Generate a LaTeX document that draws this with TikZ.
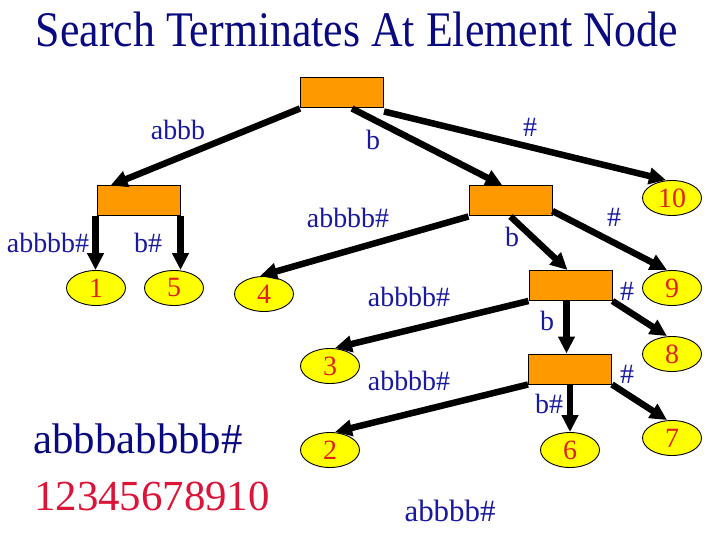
\documentclass[tikz,border=0pt]{standalone}
\usepackage{fontspec}
\setmainfont{Liberation Serif}
\usetikzlibrary{arrows.meta,shapes.geometric}
\definecolor{titleblue}{HTML}{0A0A80}
\definecolor{labelblue}{HTML}{1818A0}
\definecolor{boxorange}{HTML}{FF9900}
\definecolor{leafyellow}{HTML}{FFFF00}
\definecolor{digred}{HTML}{E0201A}
\definecolor{bigred}{HTML}{DC1438}
\begin{document}
\begin{tikzpicture}[x=1bp,y=-1bp,
  innerbox/.style={draw=black,line width=1bp,fill=boxorange,minimum width=83bp,minimum height=30bp,inner sep=0pt},
  leaf/.style={ellipse,draw=black,line width=0.9bp,fill=leafyellow,minimum width=59bp,minimum height=35bp,inner sep=0pt,text=digred,font=\fontsize{28}{28}\selectfont},
  edgearrow/.style={line width=6.5bp,-{Triangle[length=17bp,width=16bp]}},
  lbl/.style={anchor=base,text=labelblue,font=\fontsize{28}{28}\selectfont,inner sep=0pt}]
\useasboundingbox (0,0) rectangle (720,540);
\fill[white] (0,0) rectangle (720,540);
% title
\node[anchor=base,text=titleblue,inner sep=0pt,font=\fontsize{50}{50}\selectfont] (title) at (357,47) {\scalebox{0.88}[1]{Search Terminates At Element Node}};
% branch nodes
\node[innerbox] (root) at (342,93) {};
\node[innerbox] (L) at (138.5,201) {};
\node[innerbox] (M) at (510.5,201) {};
\node[innerbox] (B3) at (570.5,285.5) {};
\node[innerbox] (B4) at (570,369) {};
% leaves
\node[leaf] (e1) at (96,288) {1};
\node[leaf] (e5) at (174,288) {5};
\node[leaf] (e4) at (264,294) {4};
\node[leaf] (e10) at (672,198) {10};
\node[leaf] (e9) at (672,288) {9};
\node[leaf] (e3) at (330,366) {3};
\node[leaf] (e8) at (672,354) {8};
\node[leaf] (e2) at (330,450) {2};
\node[leaf] (e6) at (570,450) {6};
\node[leaf] (e7) at (672,438) {7};
% connectors
\draw[edgearrow] (root.south west) -- ([xshift=-28bp]L.north);
\draw[edgearrow] ([xshift=10bp]root.south) -- ([xshift=-8bp]M.north);
\draw[edgearrow] ([yshift=-3bp]root.south east) -- ([xshift=-6bp]e10.north);
\draw[edgearrow] ([xshift=-1bp]L.south west) -- ([xshift=-1bp]L.south west |- e1.north);
\draw[edgearrow] (L.south east) -- (L.south east |- e5.north);
\draw[edgearrow] (M.south west) -- ([xshift=-4bp]e4.north);
\draw[edgearrow] (M.south) -- ([xshift=-3bp]B3.north);
\draw[edgearrow] ([yshift=-10bp]M.east) -- ([xshift=-5bp]e9.north);
\draw[edgearrow] (B3.south west) -- ([xshift=5bp]e3.north);
\draw[edgearrow] ([xshift=-4bp]B3.south) -- ([xshift=-4bp]B3.south |- B4.north);
\draw[edgearrow] (B3.south east) -- ([xshift=-5bp]e8.north);
\draw[edgearrow] (B4.south west) -- ([xshift=5bp]e2.north);
\draw[edgearrow] (B4.south) -- (B4.south |- e6.north);
\draw[edgearrow] (B4.south east) -- ([xshift=-5bp]e7.north);
% edge labels
\node[lbl] (t1) at (178,140) {abbb};
\node[lbl] (t2) at (373,150) {b};
\node[lbl] (t3) at (530,137) {\#};
\node[lbl] (t4) at (48,253) {abbbb\#};
\node[lbl] (t5) at (148,253) {b\#};
\node[lbl] (t6) at (348,228) {abbbb\#};
\node[lbl] (t7) at (512,247) {b};
\node[lbl] (t8) at (614,227) {\#};
\node[lbl] (t9) at (409,306) {abbbb\#};
\node[lbl] (t10) at (627,300) {\#};
\node[lbl] (t11) at (547,330) {b};
\node[lbl] (t12) at (409,390) {abbbb\#};
\node[lbl] (t13) at (627,383) {\#};
\node[lbl] (t14) at (549,413) {b\#};
\node[lbl,font=\fontsize{31}{31}\selectfont] (t15) at (450,521) {abbbb\#};
% bottom strings
\node[anchor=base,inner sep=0pt,text=titleblue,font=\fontsize{43}{43}\selectfont] (s1) at (138,453) {abbbabbbb\#};
\node[anchor=base,inner sep=0pt,text=bigred,font=\fontsize{43}{43}\selectfont] (s2) at (152,510) {12345678910};
\end{tikzpicture}
\end{document}
